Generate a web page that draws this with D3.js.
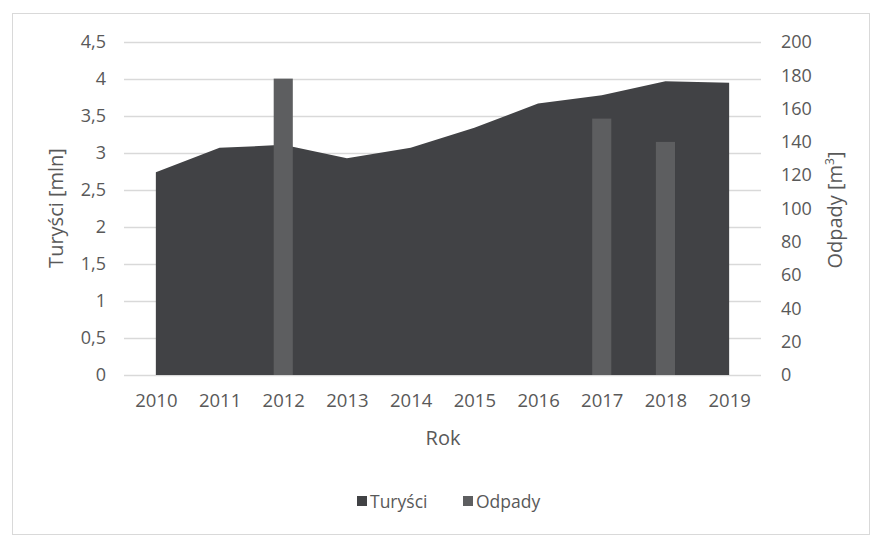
<!DOCTYPE html>
<html>
<head>
<meta charset="utf-8">
<script src="https://cdn.jsdelivr.net/npm/d3@7"></script>
<style>
  body { margin: 0; background: #fff; }
  svg { font-family: "Open Sans", sans-serif; }
</style>
</head>
<body>
<div id="chart"></div>
<script>
// Dane
const years = ["2010", "2011", "2012", "2013", "2014", "2015", "2016", "2017", "2018", "2019"];
const turysci = [2.74, 3.07, 3.11, 2.93, 3.07, 3.34, 3.67, 3.78, 3.97, 3.95];
const odpady = [null, null, 178, null, null, null, null, 154, 140, null];
const leftTicks = [0, 0.5, 1, 1.5, 2, 2.5, 3, 3.5, 4, 4.5];
const rightTicks = [0, 20, 40, 60, 80, 100, 120, 140, 160, 180, 200];

const width = 874, height = 539;
const plotLeft = 124, plotRight = 761, plotTop = 42, plotBottom = 375;
const textColor = "#595959";

const svg = d3.select("#chart").append("svg")
    .attr("width", width)
    .attr("height", height);

// ramka wykresu
svg.append("rect")
    .attr("x", 12.5).attr("y", 13.5)
    .attr("width", 857).attr("height", 521)
    .attr("fill", "#fff")
    .attr("stroke", "#d9d9d9");

const x = d3.scalePoint()
    .domain(years)
    .range([plotLeft, plotRight])
    .padding(0.5);

const yLeft = d3.scaleLinear().domain([0, 4.5]).range([plotBottom, plotTop]);
const yRight = d3.scaleLinear().domain([0, 200]).range([plotBottom, plotTop]);

// linie siatki
svg.append("g")
    .selectAll("line")
    .data(leftTicks)
    .join("line")
    .attr("x1", plotLeft).attr("x2", plotRight)
    .attr("y1", d => Math.round(yLeft(d)) + 0.5)
    .attr("y2", d => Math.round(yLeft(d)) + 0.5)
    .attr("stroke", "#d9d9d9")
    .attr("stroke-width", 1.3);

// obszar - Turyści
const area = d3.area()
    .x((d, i) => x(years[i]))
    .y0(yLeft(0))
    .y1(d => yLeft(d));

svg.append("path")
    .datum(turysci)
    .attr("d", area)
    .attr("fill", "#414245");

// słupki - Odpady
const barW = x.step() * 0.3;
svg.append("g")
    .attr("fill", "#5d5e60")
    .selectAll("rect")
    .data(years.map((y, i) => ({ year: y, v: odpady[i] })).filter(d => d.v != null))
    .join("rect")
    .attr("x", d => x(d.year) - barW / 2)
    .attr("y", d => yRight(d.v))
    .attr("width", barW)
    .attr("height", d => yRight(0) - yRight(d.v));

// oś lewa
const axisLeft = svg.append("g")
    .attr("transform", `translate(${plotLeft - 18},0)`)
    .call(d3.axisLeft(yLeft).tickValues(leftTicks).tickSize(0).tickPadding(0)
        .tickFormat(d => String(d).replace(".", ",")));
axisLeft.select(".domain").remove();
axisLeft.selectAll("text").attr("fill", textColor).attr("font-size", 18).attr("font-family", "Open Sans");

// oś prawa
const axisRight = svg.append("g")
    .attr("transform", `translate(${plotLeft + 657},0)`)
    .call(d3.axisRight(yRight).tickValues(rightTicks).tickSize(0).tickPadding(0));
axisRight.select(".domain").remove();
axisRight.selectAll("text").attr("fill", textColor).attr("font-size", 18).attr("font-family", "Open Sans");

// oś X
const axisBottom = svg.append("g")
    .attr("transform", `translate(0,${plotBottom + 19})`)
    .call(d3.axisBottom(x).tickSize(0).tickPadding(0));
axisBottom.select(".domain").remove();
axisBottom.selectAll("text").attr("fill", textColor).attr("font-size", 18.5).attr("font-family", "Open Sans");

// tytuły osi
svg.append("text")
    .attr("transform", "translate(63,208) rotate(-90)")
    .attr("text-anchor", "middle")
    .attr("fill", textColor)
    .attr("font-size", 20)
    .text("Turyści [mln]");

const rt = svg.append("text")
    .attr("transform", "translate(842,210) rotate(-90)")
    .attr("text-anchor", "middle")
    .attr("fill", textColor)
    .attr("font-size", 20);
rt.append("tspan").text("Odpady [m");
rt.append("tspan").attr("font-size", 12).attr("dy", -8).text("3");
rt.append("tspan").attr("dy", 8).text("]");

svg.append("text")
    .attr("x", 443).attr("y", 445)
    .attr("text-anchor", "middle")
    .attr("fill", textColor)
    .attr("font-size", 20)
    .text("Rok");

// legenda
const legendItems = [
    { label: "Turyści", color: "#414245", x: 357 },
    { label: "Odpady", color: "#5d5e60", x: 463 }
];
const legend = svg.append("g");
legendItems.forEach(d => {
    legend.append("rect")
        .attr("x", d.x).attr("y", 496)
        .attr("width", 10).attr("height", 10)
        .attr("fill", d.color);
    legend.append("text")
        .attr("x", d.x + 13).attr("y", 508)
        .attr("fill", textColor)
        .attr("font-size", 17.5)
        .text(d.label);
});
</script>
</body>
</html>
